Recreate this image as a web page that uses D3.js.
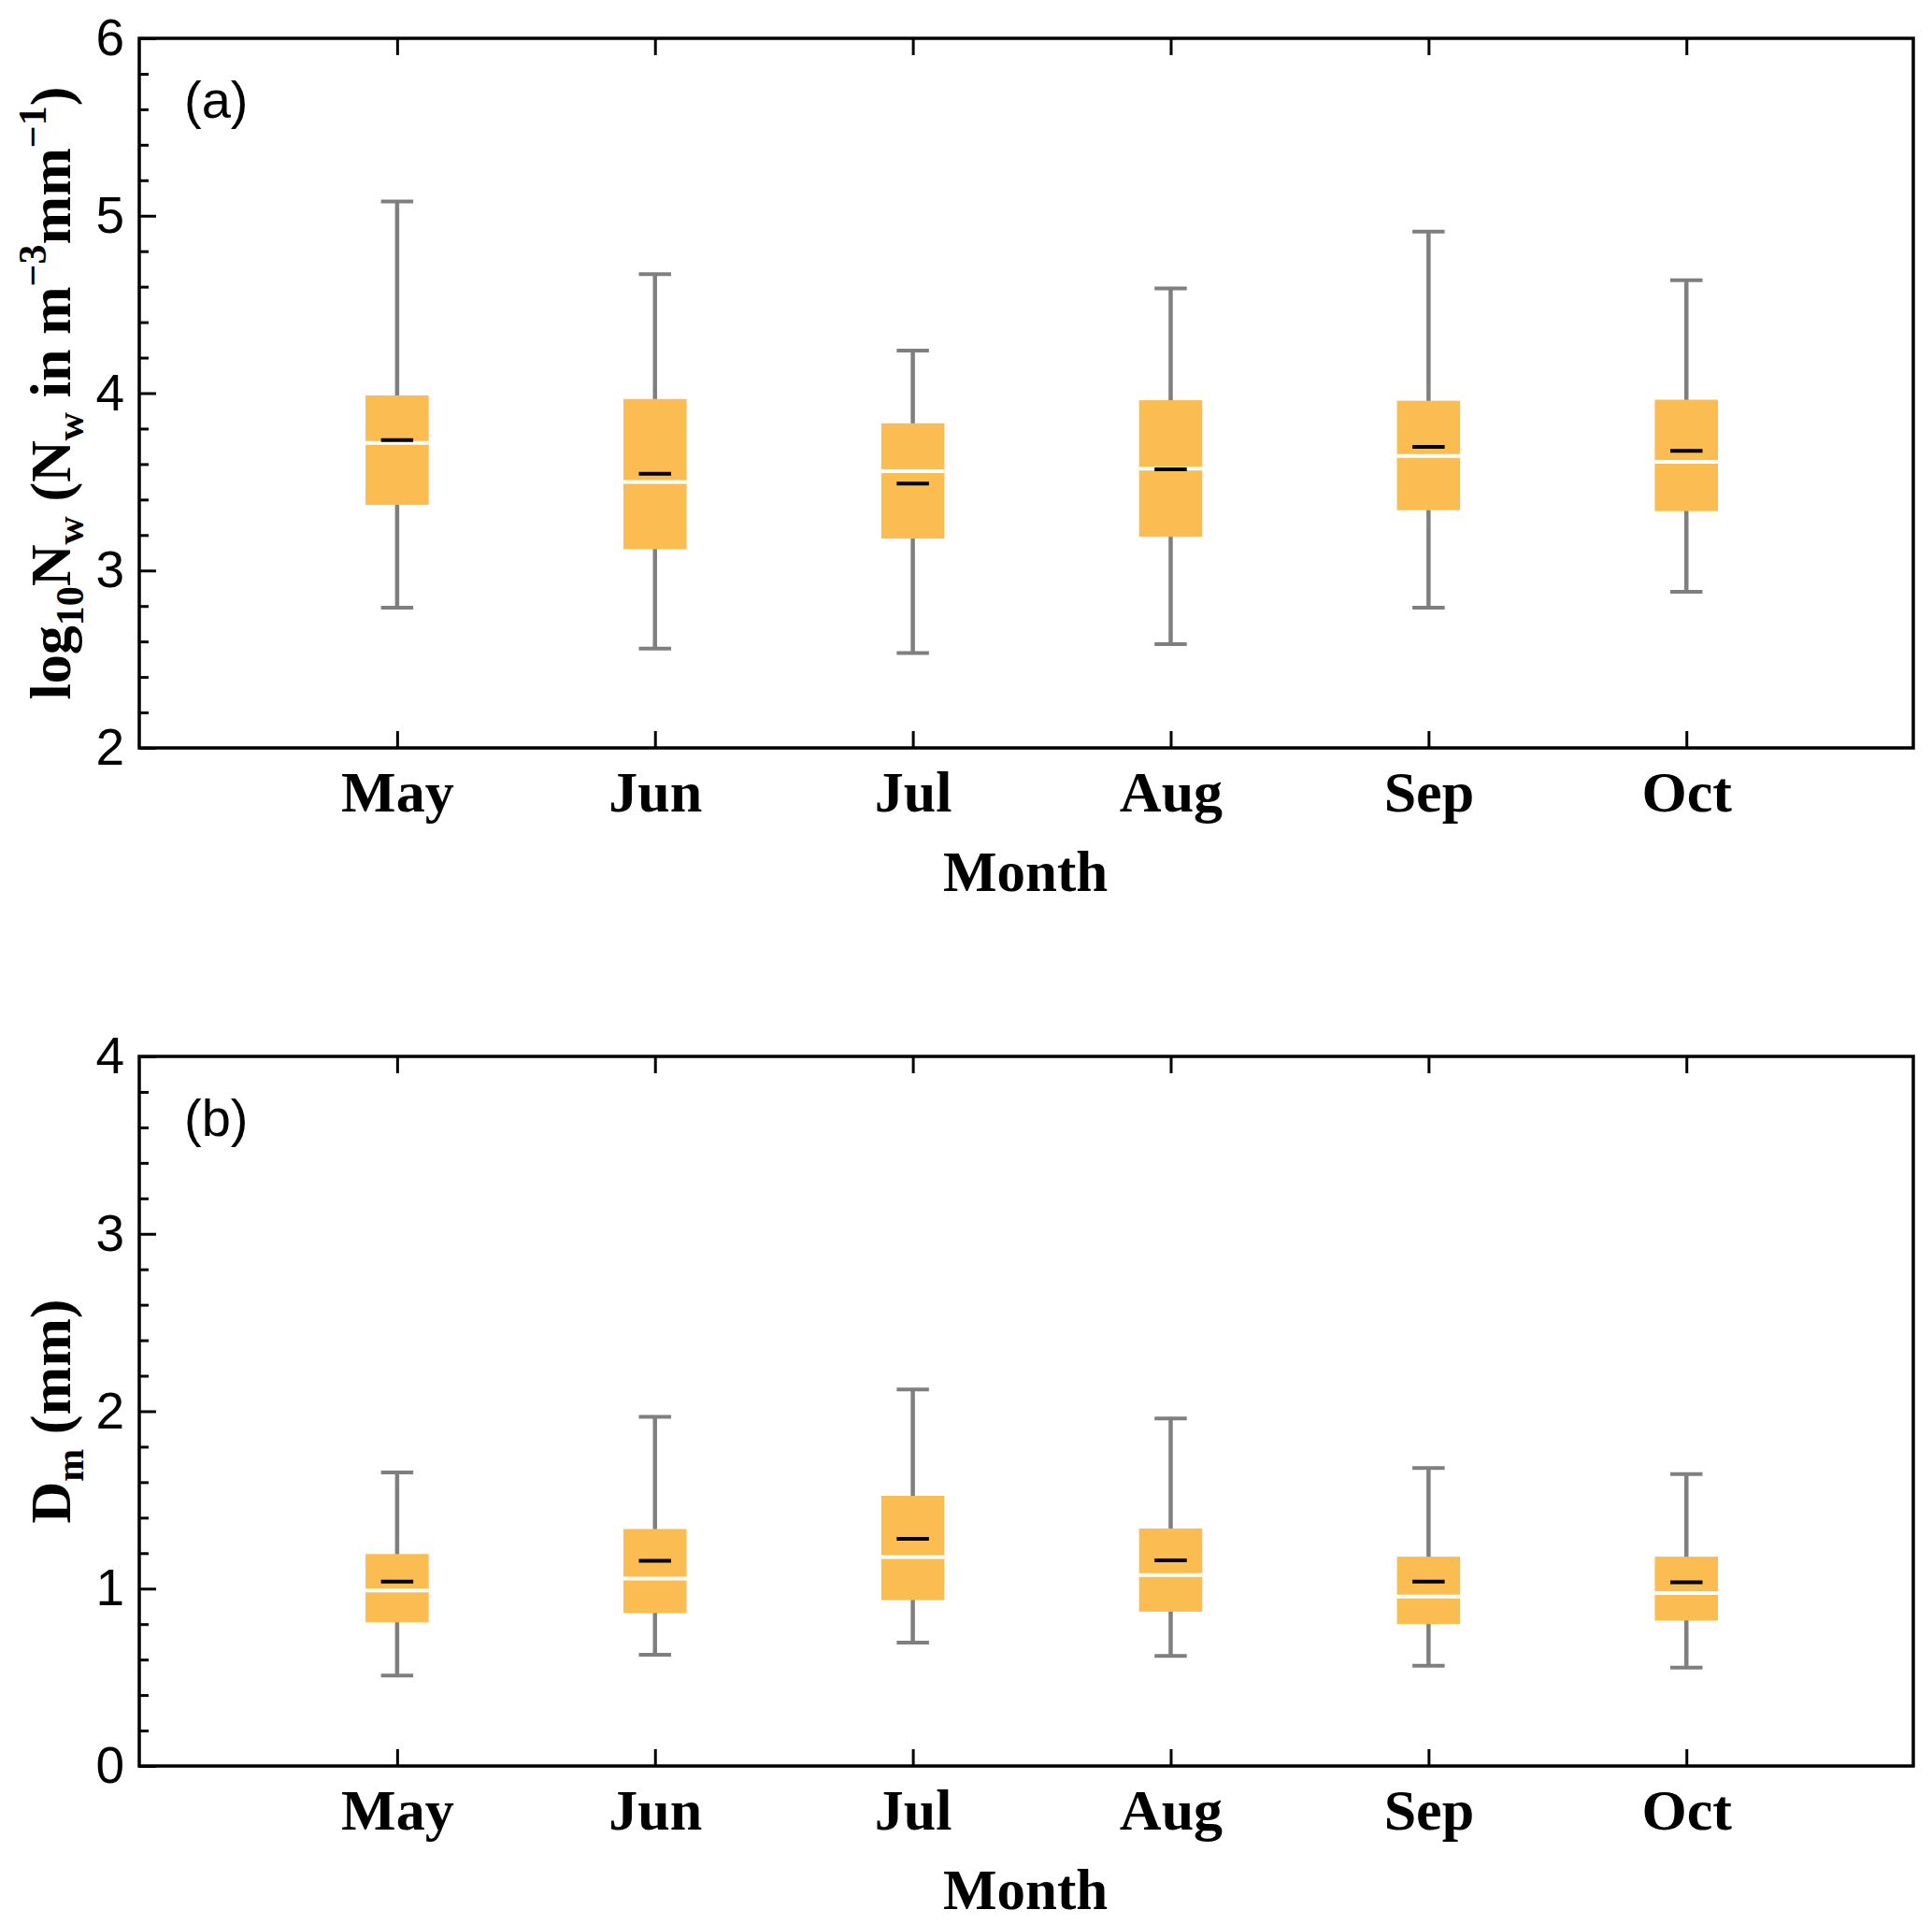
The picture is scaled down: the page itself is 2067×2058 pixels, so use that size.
<!DOCTYPE html>
<html>
<head>
<meta charset="utf-8">
<script src="https://cdn.jsdelivr.net/npm/d3@7"></script>
<style>
  body { margin: 0; background: #fff; }
  svg { display: block; }
</style>
</head>
<body>
<div id="chart"></div>
<script>
// months on the x axis
const months = ["May", "Jun", "Jul", "Aug", "Sep", "Oct"];

// panel (a): log10 Nw
const nwLow    = [2.79, 2.56, 2.535, 2.585, 2.79, 2.88];
const nwQ1     = [3.37, 3.12, 3.18, 3.19, 3.34, 3.335];
const nwMedian = [3.72, 3.50, 3.56, 3.575, 3.645, 3.613];
const nwMean   = [3.735, 3.546, 3.49, 3.57, 3.697, 3.674];
const nwQ3     = [3.987, 3.967, 3.83, 3.96, 3.957, 3.963];
const nwHigh   = [5.08, 4.67, 4.24, 4.59, 4.91, 4.637];

// panel (b): Dm
const dmLow    = [0.51, 0.627, 0.696, 0.621, 0.565, 0.555];
const dmQ1     = [0.81, 0.862, 0.935, 0.87, 0.80, 0.82];
const dmMedian = [0.99, 1.057, 1.178, 1.076, 0.955, 0.975];
const dmMean   = [1.039, 1.157, 1.28, 1.16, 1.04, 1.035];
const dmQ3     = [1.195, 1.336, 1.523, 1.339, 1.18, 1.18];
const dmHigh   = [1.655, 1.968, 2.122, 1.959, 1.68, 1.645];

const W = 2067, H = 2058;
const left = 149, right = 2047;

const svg = d3.select("#chart").append("svg")
    .attr("width", W)
    .attr("height", H);

// x scale, months sit at 1..6
var x = d3.scaleLinear()
    .domain([0, 6.88])
    .range([left, right]);

const boxW = 0.245, capW = 0.125;

function drawPanel(opt) {
  var y = d3.scaleLinear()
      .domain(opt.yDomain)
      .range([opt.bottom, opt.top]);

  var g = svg.append("g");

  // minor y ticks
  var majors = d3.range(opt.yDomain[0], opt.yDomain[1] + 0.001, 1);
  var minors = d3.range(opt.yDomain[0], opt.yDomain[1] + 0.001, 0.2)
      .filter(v => Math.abs(v - Math.round(v)) > 0.01);

  g.append("g")
      .attr("transform", "translate(" + left + ",0)")
      .call(d3.axisLeft(y).tickValues(minors).tickSize(-10).tickFormat(""))
      .call(a => a.select(".domain").remove())
      .selectAll("line").attr("stroke", "#000").attr("stroke-width", 3);

  // major y ticks + labels
  g.append("g")
      .attr("transform", "translate(" + left + ",0)")
      .call(d3.axisLeft(y).tickValues(majors).tickSize(-18).tickPadding(16).tickFormat(d3.format("d")))
      .call(a => a.select(".domain").remove())
      .call(a => a.selectAll("line").attr("stroke", "#000").attr("stroke-width", 3))
      .selectAll("text")
        .attr("font-family", "'Liberation Sans', Arial, sans-serif")
        .attr("font-size", 55)
        .attr("fill", "#000");

  // bottom ticks with month labels
  g.append("g")
      .attr("transform", "translate(0," + opt.bottom + ")")
      .call(d3.axisBottom(x).tickValues([1, 2, 3, 4, 5, 6]).tickSize(-18).tickPadding(24)
        .tickFormat(d => months[d - 1]))
      .call(a => a.select(".domain").remove())
      .call(a => a.selectAll("line").attr("stroke", "#000").attr("stroke-width", 3))
      .selectAll("text")
        .attr("font-family", "'Liberation Serif', 'Times New Roman', serif")
        .attr("font-weight", "bold")
        .attr("font-size", 62)
        .attr("fill", "#000");

  // top ticks
  g.append("g")
      .attr("transform", "translate(0," + opt.top + ")")
      .call(d3.axisTop(x).tickValues([1, 2, 3, 4, 5, 6]).tickSize(-18).tickFormat(""))
      .call(a => a.select(".domain").remove())
      .selectAll("line").attr("stroke", "#000").attr("stroke-width", 3);

  // boxes
  var data = months.map((m, i) => ({
    pos: i + 1, low: opt.low[i], q1: opt.q1[i], med: opt.med[i],
    mean: opt.mean[i], q3: opt.q3[i], high: opt.high[i]
  }));

  var b = g.selectAll(".box").data(data).enter().append("g").attr("class", "box");

  b.append("line")
      .attr("x1", d => x(d.pos)).attr("x2", d => x(d.pos))
      .attr("y1", d => y(d.low)).attr("y2", d => y(d.high))
      .attr("stroke", "#7f7f7f").attr("stroke-width", 4.5);

  ["low", "high"].forEach(k => {
    b.append("line")
        .attr("x1", d => x(d.pos - capW / 2)).attr("x2", d => x(d.pos + capW / 2))
        .attr("y1", d => y(d[k])).attr("y2", d => y(d[k]))
        .attr("stroke", "#7f7f7f").attr("stroke-width", 4);
  });

  b.append("rect")
      .attr("x", d => x(d.pos - boxW / 2))
      .attr("width", d => x(d.pos + boxW / 2) - x(d.pos - boxW / 2))
      .attr("y", d => y(d.q3))
      .attr("height", d => y(d.q1) - y(d.q3))
      .attr("fill", "#fbbc52");

  // median (white)
  b.append("line")
      .attr("x1", d => x(d.pos - boxW / 2)).attr("x2", d => x(d.pos + boxW / 2))
      .attr("y1", d => y(d.med)).attr("y2", d => y(d.med))
      .attr("stroke", "#fff").attr("stroke-width", 4);

  // mean (black)
  b.append("line")
      .attr("x1", d => x(d.pos - capW / 2)).attr("x2", d => x(d.pos + capW / 2))
      .attr("y1", d => y(d.mean)).attr("y2", d => y(d.mean))
      .attr("stroke", "#000").attr("stroke-width", 4);

  // frame
  g.append("rect")
      .attr("x", left).attr("y", opt.top)
      .attr("width", right - left).attr("height", opt.bottom - opt.top)
      .attr("fill", "none").attr("stroke", "#000").attr("stroke-width", 3.5);

  // panel letter
  g.append("text")
      .attr("x", 197).attr("y", opt.top + 85)
      .attr("font-family", "'Liberation Sans', Arial, sans-serif")
      .attr("font-size", 56)
      .text(opt.letter);

  // x title
  g.append("text")
      .attr("x", 1097).attr("y", opt.bottom + 153)
      .attr("text-anchor", "middle")
      .attr("font-family", "'Liberation Serif', 'Times New Roman', serif")
      .attr("font-weight", "bold")
      .attr("font-size", 61)
      .text("Month");

  // y title
  var yt = g.append("text")
      .attr("transform", "translate(75," + (opt.top + opt.bottom) / 2 + ") rotate(-90)")
      .attr("text-anchor", "middle")
      .attr("font-family", "'Liberation Serif', 'Times New Roman', serif")
      .attr("font-weight", "bold")
      .attr("font-size", 62);
  opt.yTitle.forEach(p => {
    var t = yt.append("tspan").text(p[0]);
    if (p[1] == "sub") t.attr("font-size", 42).attr("dy", 14);
    if (p[1] == "sup") t.attr("font-size", 42).attr("dy", -26);
    if (p[1] == "back-sub") t.attr("dy", -14);
    if (p[1] == "back-sup") t.attr("dy", 26);
  });
}

drawPanel({
  top: 41, bottom: 800, yDomain: [2, 6], letter: "(a)",
  low: nwLow, q1: nwQ1, med: nwMedian, mean: nwMean, q3: nwQ3, high: nwHigh,
  yTitle: [["log"], ["10", "sub"], ["N", "back-sub"], ["w", "sub"], [" (N", "back-sub"],
           ["w", "sub"], [" in m", "back-sub"], ["\u22123", "sup"], ["mm", "back-sup"],
           ["\u22121", "sup"], [")", "back-sup"]]
});

drawPanel({
  top: 1130, bottom: 1889, yDomain: [0, 4], letter: "(b)",
  low: dmLow, q1: dmQ1, med: dmMedian, mean: dmMean, q3: dmQ3, high: dmHigh,
  yTitle: [["D"], ["m", "sub"], [" (mm)", "back-sub"]]
});
</script>
</body>
</html>
